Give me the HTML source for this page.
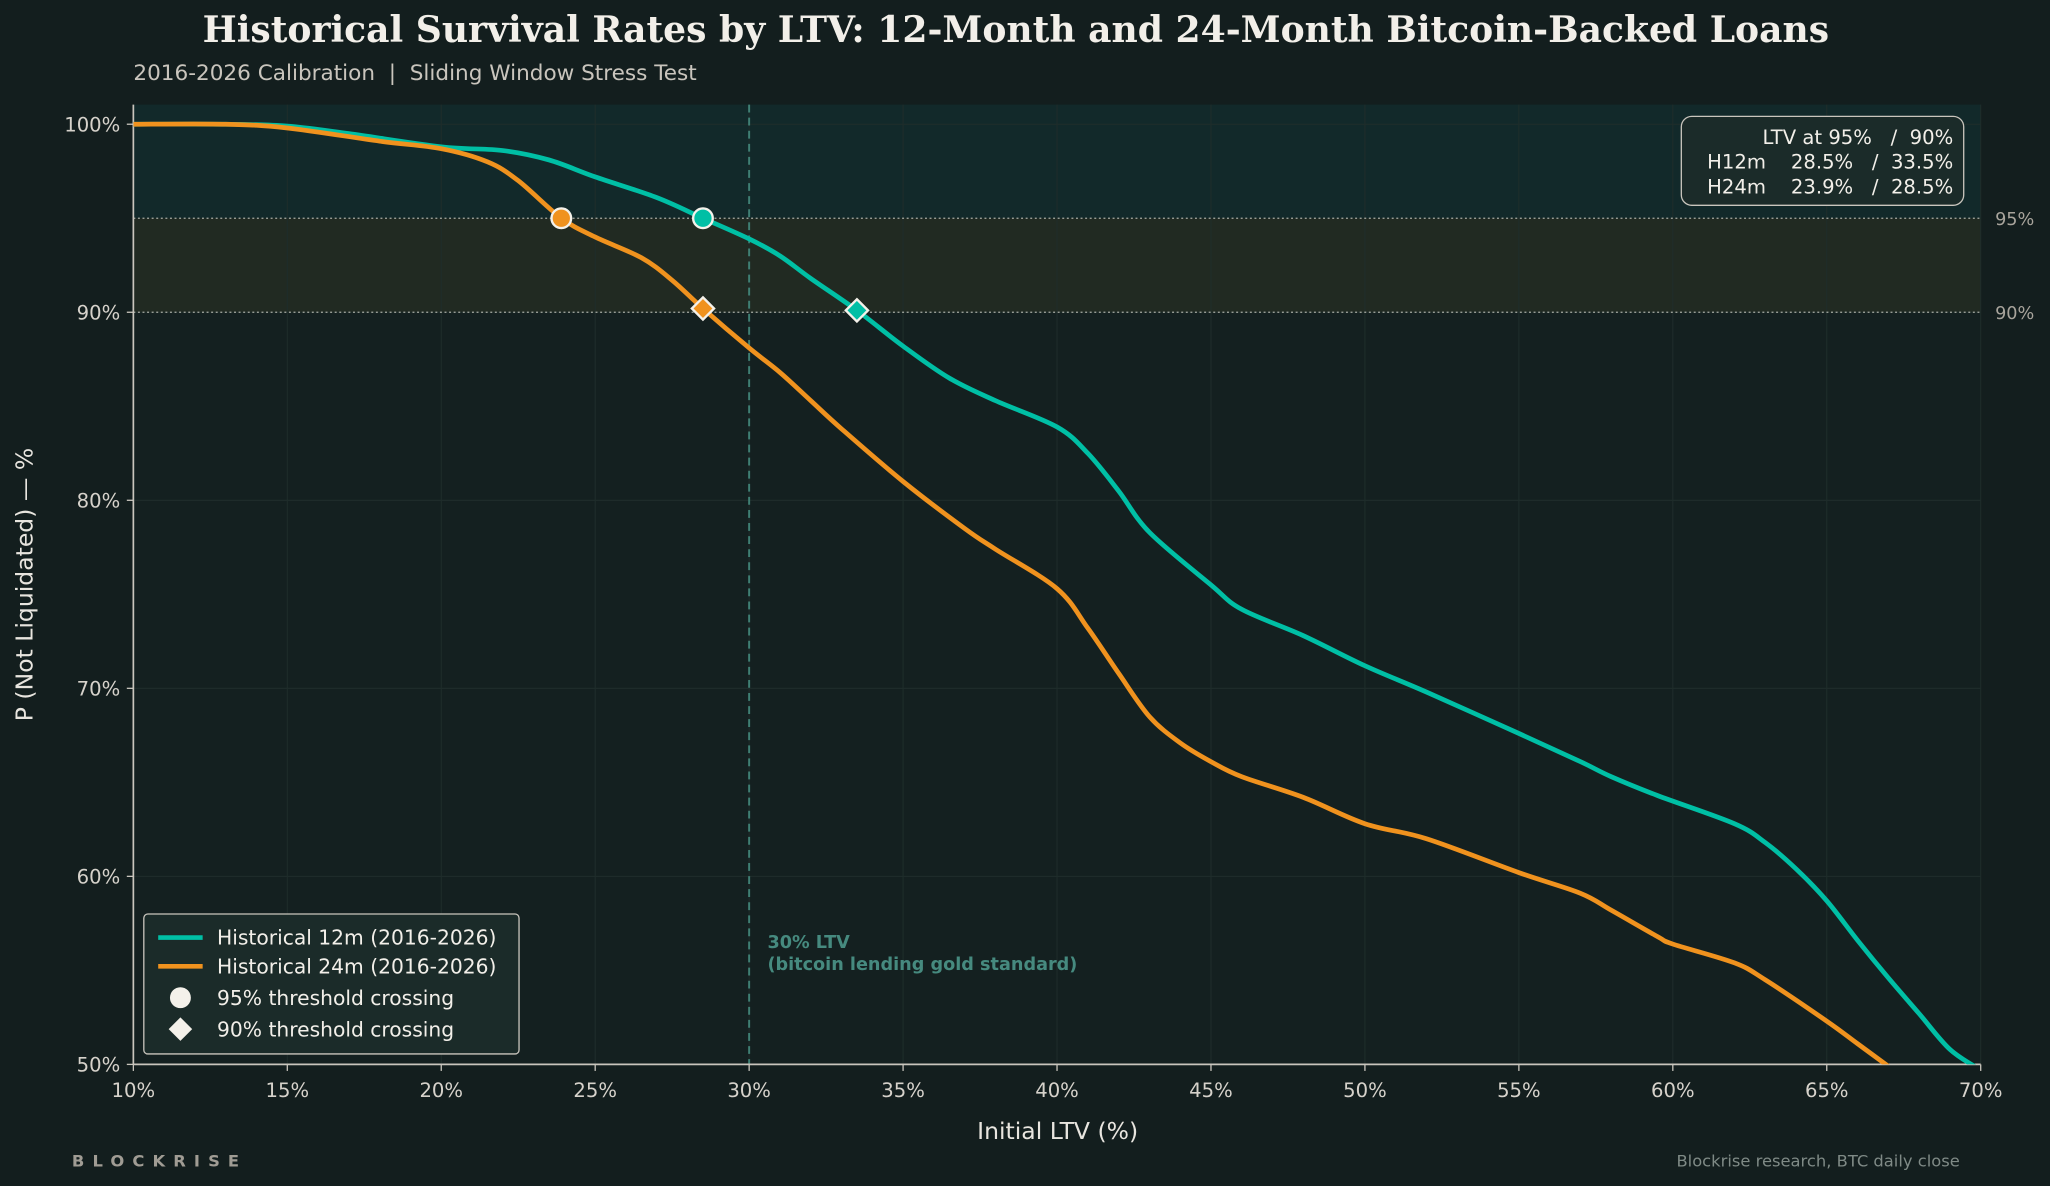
<!DOCTYPE html>
<html><head><meta charset="utf-8"><style>
html,body{margin:0;padding:0;background:#131e1e;}
svg{display:block;font-family:"DejaVu Sans","Liberation Sans",sans-serif;}
svg text{white-space:pre;}
</style></head><body>
<svg id="chart" width="2050" height="1186" viewBox="0 0 1568 907" preserveAspectRatio="none" xmlns="http://www.w3.org/2000/svg" xml:space="preserve">
<rect width="1568" height="907" fill="#131e1e"/>
<text x="777" y="32" text-anchor="middle" font-family="'DejaVu Serif','Liberation Serif',serif" font-weight="bold" font-size="27.6" fill="#f2efe9">Historical Survival Rates by LTV: 12-Month and 24-Month Bitcoin-Backed Loans</text>
<text x="102" y="61" font-size="16.5" fill="#c9c5bd">2016-2026 Calibration  |  Sliding Window Stress Test</text>
<g id="plot"></g>
<text transform="translate(25,447) rotate(-90)" text-anchor="middle" font-size="18" fill="#e8e5df">P (Not Liquidated) — %</text>
<text x="809" y="871" text-anchor="middle" font-size="18" fill="#e8e5df">Initial LTV (%)</text>
<text x="55" y="892" font-size="12.5" font-weight="bold" letter-spacing="6.2" fill="#a09c94">BLOCKRISE</text>
<text x="1499" y="892" text-anchor="end" font-size="12.5" fill="#7f8a86">Blockrise research, BTC daily close</text>
</svg>
<script>
const xTicks=[10,15,20,25,30,35,40,45,50,55,60,65,70];
const yTicks=[50,60,70,80,90,100];
const ltv12=[10,13,15,17,20,22,23.5,25,27,28.5,30,31,32,33.5,35,36.5,38,40,41,42,43,45,46,48,50,52,55,57,58,59.5,62,63,64,65,66,67,68,69,70];
const surv12=[100,100,99.9,99.5,98.8,98.6,98.1,97.2,96.1,95.0,93.9,93.0,91.8,90.1,88.2,86.5,85.3,83.9,82.5,80.5,78.3,75.5,74.2,72.8,71.2,69.8,67.6,66.1,65.3,64.3,62.8,61.8,60.4,58.7,56.6,54.6,52.7,50.8,49.7];
const ltv24=[10,13,15,18,20,21.5,22.5,23.9,25,26.5,27.5,28.5,30,31,32,33,35,37,38,40,41,42,43,44,45,46,48,50,52,55,57,58,59.5,60,62,63,65,66,67];
const surv24=[100,100,99.8,99.1,98.7,98.0,97.0,95.0,94.0,92.9,91.7,90.2,88.1,86.8,85.3,83.8,81.0,78.5,77.4,75.3,73.2,70.8,68.5,67.1,66.1,65.3,64.2,62.8,62.0,60.2,59.1,58.2,56.8,56.4,55.4,54.5,52.3,51.1,49.9];
const cross95=[{x:28.5,y:95,c:"#00bfa5"},{x:23.9,y:95,c:"#f0921e"}];
const cross90=[{x:33.5,y:90.1,c:"#00bfa5"},{x:28.5,y:90.2,c:"#f0921e"}];

const L=102,R=1515,T=80,B=814;
const X=v=>L+(v-10)/60*(R-L);
const Y=v=>95+(100-v)/50*(814-95);
const NS="http://www.w3.org/2000/svg";
const g=document.getElementById('plot');
function mk(tag,attrs,parent){const e=document.createElementNS(NS,tag);for(const k in attrs)e.setAttribute(k,attrs[k]);(parent||g).appendChild(e);return e;}

let e;
e=mk('rect',{x:L,y:T,width:R-L,height:B-T,fill:'#142020'});


e=mk('rect',{x:L,y:T,width:R-L,height:Y(95)-T,fill:'#12292a'});


e=mk('rect',{x:L,y:Y(95),width:R-L,height:Y(90)-Y(95),fill:'#212a22'});



const defs=mk('defs',{});
const cp=mk('clipPath',{id:'clip'},defs);
mk('rect',{x:L,y:T,width:R-L,height:B-T},cp);

xTicks.forEach(t=>{
 e=mk('line',{x1:X(t),x2:X(t),y1:T,y2:B,stroke:'#1f2d2b','stroke-width':0.8});
 
 
 mk('line',{x1:X(t),x2:X(t),y1:B,y2:B+5,stroke:'#c9c5bd','stroke-width':1});
 e=mk('text',{x:X(t),y:B+25,'text-anchor':'middle','font-size':15,fill:'#d6d2cb'});
 e.textContent=t+'%';
 
 
});
yTicks.forEach(t=>{
 e=mk('line',{x1:L,x2:R,y1:Y(t),y2:Y(t),stroke:'#1f2d2b','stroke-width':0.8});
 
 
 mk('line',{x1:L-5,x2:L,y1:Y(t),y2:Y(t),stroke:'#c9c5bd','stroke-width':1});
 e=mk('text',{x:L-10,y:Y(t)+5.5,'text-anchor':'end','font-size':15,fill:'#d6d2cb'});
 e.textContent=t+'%';
 
 
});
[95,90].forEach(t=>{
 e=mk('line',{x1:L,x2:R,y1:Y(t),y2:Y(t),stroke:'#a8aca4','stroke-width':1,'stroke-dasharray':'1.5 2'});
 
 
 e=mk('text',{x:R+11,y:Y(t)+5,'font-size':13.5,fill:'#a8a49c'});
 e.textContent=t+'%';
 
 
});
e=mk('line',{x1:X(30),x2:X(30),y1:T,y2:B,stroke:'#3f7f74','stroke-width':1.5,'stroke-dasharray':'6 4'});


e=mk('text',{x:X(30)+14,y:725,'font-size':13.5,'font-weight':'bold',fill:'#468a7f'});
e.textContent='30% LTV';


e=mk('text',{x:X(30)+14,y:742,'font-size':13.5,'font-weight':'bold',fill:'#468a7f'});
e.textContent='(bitcoin lending gold standard)';



mk('line',{x1:L,x2:L,y1:T,y2:B,stroke:'#c9c5bd','stroke-width':1.3});
mk('line',{x1:L,x2:R,y1:B,y2:B,stroke:'#c9c5bd','stroke-width':1.3});

function path(xs,ys){
 const p=xs.map((x,i)=>[X(x),Y(ys[i])]);
 let d='M'+p[0][0]+','+p[0][1];
 for(let i=0;i<p.length-1;i++){
  const p0=p[i-1]||p[i],p1=p[i],p2=p[i+1],p3=p[i+2]||p2;
  const c1=[p1[0]+(p2[0]-p0[0])/6,p1[1]+(p2[1]-p0[1])/6];
  const c2=[p2[0]-(p3[0]-p1[0])/6,p2[1]-(p3[1]-p1[1])/6];
  d+=' C'+c1+' '+c2+' '+p2;
 }
 return d;
}
e=mk('path',{d:path(ltv12,surv12),fill:'none',stroke:'#00bfa5','stroke-width':3.6,'stroke-linejoin':'round','clip-path':'url(#clip)'});


e=mk('path',{d:path(ltv24,surv24),fill:'none',stroke:'#f0921e','stroke-width':3.6,'stroke-linejoin':'round','clip-path':'url(#clip)'});



cross95.forEach(m=>{
 e=mk('circle',{cx:X(m.x),cy:Y(m.y),r:7.5,fill:m.c,stroke:'#f4f1ea','stroke-width':1.8});
 
 
});
cross90.forEach(m=>{
 const cx=X(m.x),cy=Y(m.y),s=8.5;
 e=mk('polygon',{points:`${cx},${cy-s} ${cx+s},${cy} ${cx},${cy+s} ${cx-s},${cy}`,fill:m.c,stroke:'#f4f1ea','stroke-width':1.8});
 
 
});

// annotation box
const ab=mk('g',{});


mk('rect',{x:1286,y:89,width:216,height:68,rx:8,fill:'#1b2b29',stroke:'#c9c5bd','stroke-width':1},ab);
[['LTV at 95%   /  90%',110],['H12m    28.5%   /  33.5%',129],['H24m    23.9%   /  28.5%',148]].forEach(r=>{
 const t=mk('text',{x:1494,y:r[1],'text-anchor':'end','font-size':15,fill:'#f2efe9'},ab);
 t.textContent=r[0];
});

// legend
const lg=mk('g',{});


mk('rect',{x:110,y:699,width:287,height:107,rx:3,fill:'#1b2b29',stroke:'#c9c5bd','stroke-width':1},lg);
const items=[['line','#00bfa5','Historical 12m (2016-2026)',717],['line','#f0921e','Historical 24m (2016-2026)',739],['circle','#f4f1ea','95% threshold crossing',763],['diamond','#f4f1ea','90% threshold crossing',787]];
items.forEach(it=>{
 const y=it[3];
 if(it[0]==='line') mk('line',{x1:121,x2:155,y1:y,y2:y,stroke:it[1],'stroke-width':3.5},lg);
 else if(it[0]==='circle') mk('circle',{cx:138,cy:y,r:8,fill:it[1]},lg);
 else mk('polygon',{points:`138,${y-9} 147,${y} 138,${y+9} 129,${y}`,fill:it[1]},lg);
 const t=mk('text',{x:166,y:y+5.5,'font-size':15.5,fill:'#f2efe9'},lg);
 t.textContent=it[2];
 
 
});
</script>
</body></html>
